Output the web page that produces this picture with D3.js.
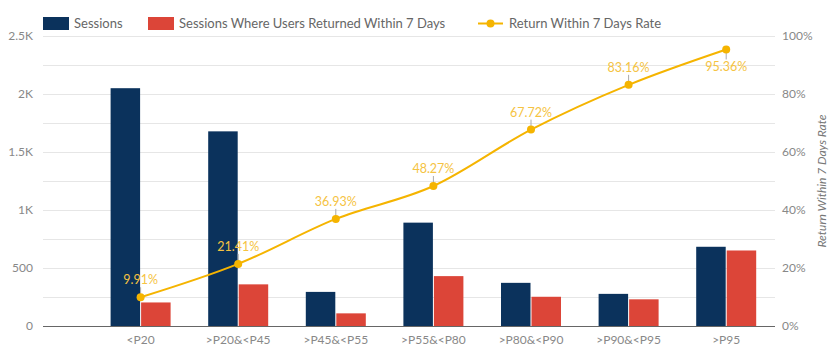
<!DOCTYPE html>
<html>
<head>
<meta charset="utf-8">
<script src="https://cdn.jsdelivr.net/npm/d3@7"></script>
<style>
  body { margin: 0; background: #fff; }
  text { font-family: Lato, "Open Sans", sans-serif; }
</style>
</head>
<body>
<script>
// chart data
var categories = ["<P20", ">P20&<P45", ">P45&<P55", ">P55&<P80", ">P80&<P90", ">P90&<P95", ">P95"];
var sessions = [2050, 1678, 294, 891, 372, 277, 683];
var returned = [203, 359, 109, 430, 252, 230, 651];
var returnRate = [9.91, 21.41, 36.93, 48.27, 67.72, 83.16, 95.36];
var leftTicks = [0, 500, 1000, 1500, 2000, 2500];
var leftTickLabels = ["0", "500", "1K", "1.5K", "2K", "2.5K"];
var rightTicks = [0, 20, 40, 60, 80, 100];

var seriesNames = ["Sessions", "Sessions Where Users Returned Within 7 Days", "Return Within 7 Days Rate"];
var colors = ["#0b325c", "#dc4538", "#f5b400"];

var width = 840, height = 363;
var plotLeft = 43, plotRight = 775, plotTop = 36, plotBottom = 326;

var svg = d3.select("body").append("svg")
    .attr("width", width)
    .attr("height", height);

// scales
var step = (plotRight - plotLeft) / 7.5;
var x = d3.scaleBand()
    .domain(categories)
    .range([plotLeft + step * 0.5, plotRight]);

var y = d3.scaleLinear().domain([0, 2500]).range([plotBottom, plotTop]);
var yRate = d3.scaleLinear().domain([0, 100]).range([plotBottom, plotTop]);

// gridlines every 250
svg.append("g")
    .selectAll("line")
    .data(d3.range(250, 2501, 250))
    .enter().append("line")
    .attr("x1", plotLeft).attr("x2", plotRight)
    .attr("y1", function(d){ return Math.round(y(d)) + 0.5; })
    .attr("y2", function(d){ return Math.round(y(d)) + 0.5; })
    .attr("stroke", "#e6e6e6")
    .attr("stroke-width", 1);

// left axis labels
var leftAxis = d3.axisLeft(y)
    .tickValues(leftTicks)
    .tickFormat(function(d, i){ return leftTickLabels[i]; })
    .tickSize(0).tickPadding(10);
var gl = svg.append("g").attr("transform", "translate(" + plotLeft + ",0)").call(leftAxis);
gl.select(".domain").remove();
gl.selectAll("text").attr("fill", "#888").style("font-size", "12px");

// right axis labels
var rightAxis = d3.axisRight(yRate)
    .tickValues(rightTicks)
    .tickFormat(function(d){ return d + "%"; })
    .tickSize(0).tickPadding(7);
var gr = svg.append("g").attr("transform", "translate(" + plotRight + ",0)").call(rightAxis);
gr.select(".domain").remove();
gr.selectAll("text").attr("fill", "#888").style("font-size", "12px");

svg.append("text")
    .attr("transform", "translate(826," + ((plotTop + plotBottom) / 2) + ") rotate(-90)")
    .attr("text-anchor", "middle")
    .attr("fill", "#777")
    .style("font-size", "12px")
    .style("font-style", "italic")
    .text("Return Within 7 Days Rate");

// bars
var barW = 29.5;
var bars = svg.append("g");
bars.selectAll(".sess")
    .data(sessions)
    .enter().append("rect")
    .attr("class", "sess")
    .attr("x", function(d, i){ return x(categories[i]) + x.bandwidth() / 2 - barW - 0.5; })
    .attr("y", function(d){ return y(d); })
    .attr("width", barW)
    .attr("height", function(d){ return plotBottom - y(d); })
    .attr("fill", colors[0]);
bars.selectAll(".ret")
    .data(returned)
    .enter().append("rect")
    .attr("class", "ret")
    .attr("x", function(d, i){ return x(categories[i]) + x.bandwidth() / 2 + 0.5; })
    .attr("y", function(d){ return y(d); })
    .attr("width", barW)
    .attr("height", function(d){ return plotBottom - y(d); })
    .attr("fill", colors[1]);

// x axis
var xAxis = d3.axisBottom(x).tickSize(0).tickPadding(9);
var gx = svg.append("g").attr("transform", "translate(0," + plotBottom + ")").call(xAxis);
gx.select(".domain").remove();
gx.selectAll("text").attr("fill", "#888").style("font-size", "12px");
svg.append("line")
    .attr("x1", plotLeft).attr("x2", plotRight)
    .attr("y1", plotBottom + 0.5).attr("y2", plotBottom + 0.5)
    .attr("stroke", "#666").attr("stroke-width", 1.2);

// rate line
var cx = function(i){ return x(categories[i]) + x.bandwidth() / 2; };
var line = d3.line()
    .x(function(d, i){ return cx(i); })
    .y(function(d){ return yRate(d); })
    .curve(d3.curveMonotoneX);

svg.append("path")
    .datum(returnRate)
    .attr("d", line)
    .attr("fill", "none")
    .attr("stroke", colors[2])
    .attr("stroke-width", 2);

// leader lines and labels
var labels = svg.append("g");
returnRate.forEach(function(d, i){
    var below = i === returnRate.length - 1;
    var py = yRate(d);
    labels.append("line")
        .attr("x1", cx(i)).attr("x2", cx(i))
        .attr("y1", py).attr("y2", below ? py + 10 : py - 10)
        .attr("stroke", "#aaa").attr("stroke-width", 1);
    labels.append("text")
        .attr("x", cx(i))
        .attr("y", below ? py + 22 : py - 13)
        .attr("text-anchor", "middle")
        .attr("fill", "#f5c342")
        .style("font-size", "12.5px")
        .text(d.toFixed(2) + "%");
});

svg.append("g").selectAll("circle")
    .data(returnRate)
    .enter().append("circle")
    .attr("cx", function(d, i){ return cx(i); })
    .attr("cy", function(d){ return yRate(d); })
    .attr("r", 4)
    .attr("fill", colors[2]);

// legend
var legend = svg.append("g").style("font-size", "13px");
legend.append("rect").attr("x", 43).attr("y", 17).attr("width", 26).attr("height", 13).attr("fill", colors[0]);
legend.append("text").attr("x", 74).attr("y", 28).attr("fill", "#666").text(seriesNames[0]);
legend.append("rect").attr("x", 148).attr("y", 17).attr("width", 26).attr("height", 13).attr("fill", colors[1]);
legend.append("text").attr("x", 179).attr("y", 28).attr("fill", "#666").text(seriesNames[1]);
legend.append("line").attr("x1", 478).attr("x2", 503).attr("y1", 23.5).attr("y2", 23.5)
    .attr("stroke", colors[2]).attr("stroke-width", 2);
legend.append("circle").attr("cx", 490.5).attr("cy", 23.5).attr("r", 4).attr("fill", colors[2]);
legend.append("text").attr("x", 509).attr("y", 28).attr("fill", "#666").text(seriesNames[2]);
</script>
</body>
</html>
